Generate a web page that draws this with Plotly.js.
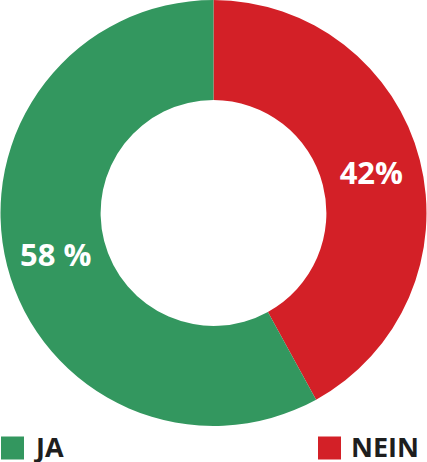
<!DOCTYPE html>
<html>
<head>
<meta charset="utf-8">
<script src="https://cdn.plot.ly/plotly-3.0.1.min.js"></script>
<style>html,body{margin:0;padding:0;background:#fff;}#chart{width:427px;height:462px;}</style>
</head>
<body>
<div id="chart"></div>
<script>
const categories = ["JA", "NEIN"];
const values = [58, 42];
const valueLabels = ["58 %", "42%"];
const colors = ["#33975f", "#d32027"];

const W = 427, H = 462;
const legendY = 446; // px from top
const legendX = [1, 318];
const sq = 23;

const shapes = [];
const annotations = [];
categories.forEach((c, i) => {
  shapes.push({
    type: "rect", xref: "paper", yref: "paper",
    x0: legendX[i] / W, x1: (legendX[i] + sq) / W,
    y0: 1 - (448 + sq / 2) / H, y1: 1 - (448 - sq / 2) / H,
    fillcolor: colors[i], line: {width: 0}
  });
  annotations.push({
    xref: "paper", yref: "paper",
    x: (legendX[i] + sq + 8) / W, y: 1 - legendY / H,
    xanchor: "left", yanchor: "middle", showarrow: false,
    text: c,
    font: {family: "Open Sans", size: 27, color: "#1e1e1e", weight: 700}
  });
});

// pie drawn clockwise from 12 o'clock: NEIN first, then JA
const order = [1, 0];

const data = [{
  type: "pie",
  labels: order.map(i => categories[i]),
  values: order.map(i => values[i]),
  text: order.map(i => valueLabels[i]),
  textinfo: "text",
  textposition: "inside",
  insidetextorientation: "horizontal",
  hole: 0.53,
  sort: false,
  direction: "clockwise",
  rotation: 0,
  marker: {colors: order.map(i => colors[i]), line: {width: 0}},
  insidetextfont: {family: "Open Sans", size: 31, color: "#ffffff", weight: 700},
  domain: {x: [0, 1], y: [(H - 426) / H, 1]},
  showlegend: false,
  hoverinfo: "none"
}];

const layout = {
  width: W, height: H,
  margin: {l: 0, r: 0, t: 0, b: 0},
  paper_bgcolor: "#ffffff",
  showlegend: false,
  shapes: shapes,
  annotations: annotations
};

Plotly.newPlot("chart", data, layout, {displayModeBar: false, staticPlot: true});
</script>
</body>
</html>
